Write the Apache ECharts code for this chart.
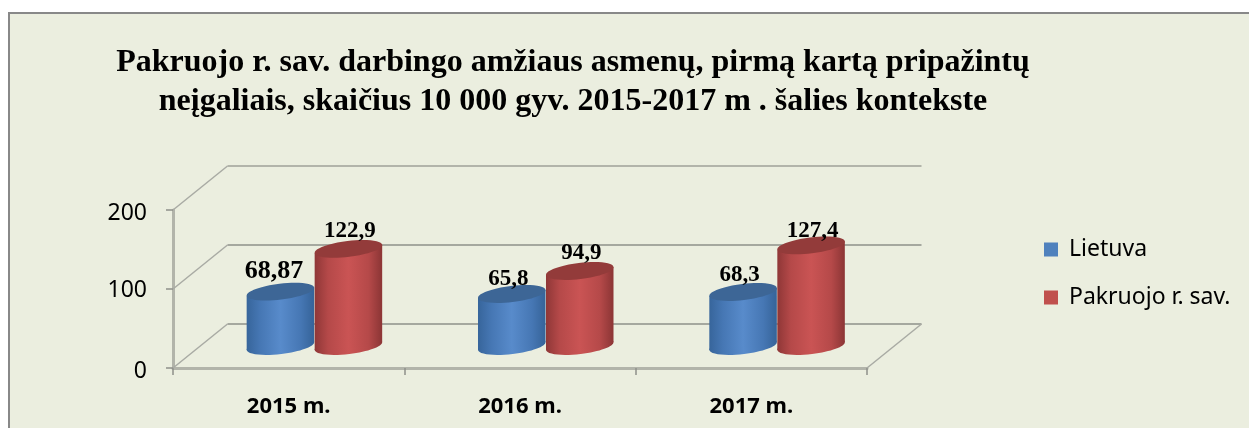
<!DOCTYPE html>
<html>
<head>
<meta charset="utf-8">
<style>
html, body { margin: 0; padding: 0; background: #fff; }
#chart { width: 1249px; height: 428px; }
</style>
<script src="https://cdn.jsdelivr.net/npm/echarts@6/dist/echarts.min.js"></script>
</head>
<body>
<div id="chart"></div>
<script>
var categories = ['2015 m.', '2016 m.', '2017 m.'];
var lietuva = [68.87, 65.8, 68.3];
var pakruojo = [122.9, 94.9, 127.4];
var yTicks = [0, 100, 200];

// fake 3d: the floor runs back by this much, bars stand half way in
var depthX = 54.5, depthY = 44;
var radiusX = 34, radiusY = 8, tilt = 0.12;
var serifBold = '"Liberation Serif", "Times New Roman", serif';

function comma(v) {
    return String(v).replace('.', ',');
}

function bodyGradient(edge, soft, mid) {
    return new echarts.graphic.LinearGradient(0, 0, 1, 0, [
        { offset: 0, color: edge },
        { offset: 0.2, color: soft },
        { offset: 0.5, color: mid },
        { offset: 0.8, color: soft },
        { offset: 0.98, color: edge },
        { offset: 1, color: edge }
    ]);
}

function cylinder(side, edge, soft, mid, cap, labelShift, labelLift) {
    return function (params, api) {
        var i = api.value(0), val = api.value(1);
        var base = api.coord([i, 0]);
        var top = api.coord([i, val]);
        var cx = base[0] + depthX / 2 - 1.5 + side * radiusX;
        var by = base[1] - depthY / 2;
        var ty = top[1] - depthY / 2;
        var ox = radiusX * Math.cos(tilt), oy = radiusX * Math.sin(tilt);
        var fill = bodyGradient(edge, soft, mid);
        var big = side < 0 && i === 0;
        return {
            type: 'group',
            children: [
                { type: 'ellipse', x: cx, y: by, rotation: tilt,
                    shape: { cx: 0, cy: 0, rx: radiusX, ry: radiusY }, style: { fill: fill } },
                { type: 'polygon',
                    shape: { points: [[cx - ox, ty + oy], [cx + ox, ty - oy], [cx + ox, by - oy], [cx - ox, by + oy]] },
                    style: { fill: fill } },
                { type: 'ellipse', x: cx, y: ty, rotation: tilt,
                    shape: { cx: 0, cy: 0, rx: radiusX, ry: radiusY }, style: { fill: cap } },
                { type: 'text', x: cx + labelShift + (big ? -3 : 0), y: ty - labelLift[i],
                    style: {
                        text: comma(val),
                        font: 'bold ' + (big ? 26 : 23) + 'px ' + serifBold,
                        fill: '#000',
                        align: 'center',
                        verticalAlign: 'middle'
                    } }
            ]
        };
    };
}

// back wall lines, side wall diagonals and the y labels, which sit a bit under their ticks
function walls(params, api) {
    var v = api.value(0);
    var p = api.coord([0, v]);
    var left = params.coordSys.x, right = left + params.coordSys.width;
    var color = v === 200 ? '#b2b4aa' : '#8e908a';
    var children = [
        { type: 'line', shape: { x1: left + depthX, y1: p[1] - depthY, x2: right + depthX, y2: p[1] - depthY },
            style: { stroke: color, lineWidth: v === 200 ? 2 : 1.5 } },
        { type: 'line', shape: { x1: left, y1: p[1], x2: left + depthX, y2: p[1] - depthY },
            style: { stroke: '#a9aba4', lineWidth: 1.5 } },
        { type: 'text', x: left - 26, y: p[1] + (v === 100 ? 1 : 3),
            style: {
                text: String(v),
                font: '23px "Noto Sans", sans-serif',
                fill: '#000',
                align: 'right',
                verticalAlign: 'middle'
            } }
    ];
    if (v === 0) {
        children.push({ type: 'line', shape: { x1: right, y1: p[1], x2: right + depthX, y2: p[1] - depthY },
            style: { stroke: '#a9aba4', lineWidth: 1.5 } });
    }
    return { type: 'group', children: children };
}

function pairs(arr) {
    return arr.map(function (v, i) { return [i, v]; });
}

var myChart = echarts.init(document.getElementById('chart'));
var option = {
    animation: false,
    graphic: [{
        type: 'rect',
        shape: { x: 9, y: 13, width: 1260, height: 440 },
        style: { fill: '#ebeedf', stroke: '#888888', lineWidth: 2 },
        z: -1
    }],
    title: {
        text: 'Pakruojo r. sav. darbingo amžiaus asmenų, pirmą kartą pripažintų\nneįgaliais, skaičius 10 000 gyv. 2015-2017 m . šalies kontekste',
        left: 568,
        top: 38,
        textAlign: 'center',
        textStyle: {
            fontFamily: serifBold,
            fontWeight: 'bold',
            fontSize: 32,
            lineHeight: 39,
            color: '#000'
        }
    },
    legend: {
        orient: 'vertical',
        left: 1044,
        top: 238,
        padding: 0,
        itemWidth: 14,
        itemHeight: 14,
        itemGap: 25,
        icon: 'rect',
        data: ['Lietuva', 'Pakruojo r. sav.'],
        textStyle: { fontFamily: '"Noto Sans", sans-serif', fontSize: 23, color: '#000', padding: [0, 0, 0, 6] }
    },
    grid: { left: 173, right: 382, top: 210, bottom: 60 },
    xAxis: {
        type: 'category',
        data: categories,
        axisLine: { lineStyle: { color: '#b2b4aa', width: 3 } },
        axisTick: { show: true, alignWithLabel: false, length: 7, lineStyle: { color: '#8e908a', width: 1.5 } },
        axisLabel: { margin: 28, fontFamily: '"Noto Sans", sans-serif', fontWeight: 'bold', fontSize: 22, color: '#000' }
    },
    yAxis: {
        type: 'value',
        min: 0,
        max: 200,
        interval: 100,
        splitLine: { show: false },
        axisLine: { show: true, lineStyle: { color: '#b2b4aa', width: 3 } },
        axisTick: { show: true, length: 7, lineStyle: { color: '#8e908a', width: 1.5 } },
        axisLabel: { show: false }
    },
    series: [
        {
            type: 'custom',
            name: 'walls',
            coordinateSystem: 'cartesian2d',
            renderItem: walls,
            data: yTicks.map(function (v) { return [v]; }),
            encode: { y: 0 },
            silent: true,
            z: 1
        },
        {
            type: 'custom',
            name: 'Lietuva',
            coordinateSystem: 'cartesian2d',
            renderItem: cylinder(-1, '#37659b', '#4677b4', '#588bcb', '#3d6696', -3.5, [20, 15, 17]),
            data: pairs(lietuva),
            encode: { x: 0, y: 1 },
            itemStyle: { color: '#4f81bd' },
            z: 3
        },
        {
            type: 'custom',
            name: 'Pakruojo r. sav.',
            coordinateSystem: 'cartesian2d',
            renderItem: cylinder(1, '#8f3737', '#b54949', '#ca5454', '#933b3a', 1.5, [18, 18, 14]),
            data: pairs(pakruojo),
            encode: { x: 0, y: 1 },
            itemStyle: { color: '#c0504d' },
            z: 4
        }
    ]
};
myChart.setOption(option);
</script>
</body>
</html>
